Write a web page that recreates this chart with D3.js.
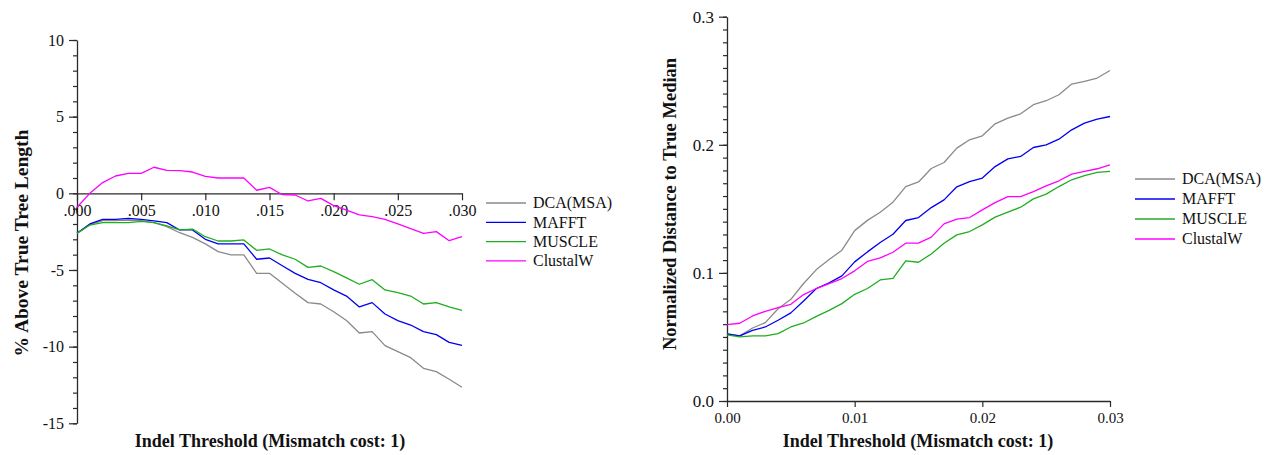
<!DOCTYPE html>
<html>
<head>
<meta charset="utf-8">
<script src="https://cdn.jsdelivr.net/npm/d3@7"></script>
<style>
  html, body { margin: 0; padding: 0; background: #fff; }
  svg { display: block; font-family: "Liberation Serif", "Times New Roman", serif; }
</style>
</head>
<body>
<svg id="chart" width="1272" height="455"></svg>
<script>
// Indel threshold values (x), shared by both panels
const thresholds = [0.000, 0.001, 0.002, 0.003, 0.004, 0.005, 0.006, 0.007, 0.008, 0.009,
  0.010, 0.011, 0.012, 0.013, 0.014, 0.015, 0.016, 0.017, 0.018, 0.019,
  0.020, 0.021, 0.022, 0.023, 0.024, 0.025, 0.026, 0.027, 0.028, 0.029, 0.030];

const methods = ["DCA(MSA)", "MAFFT", "MUSCLE", "ClustalW"];
const colors = ["#8a8a8a", "#0000f0", "#1fae1f", "#ff00ff"];

// Left panel: % above true tree length
const lenDCA = [-2.61, -2.04, -1.78, -1.78, -1.74, -1.78, -1.91, -2.17, -2.57, -2.87, -3.30, -3.80, -4.02, -4.02, -5.22, -5.22, -5.87, -6.52, -7.13, -7.22, -7.72, -8.30, -9.11, -9.02, -9.93, -10.33, -10.72, -11.41, -11.63, -12.13, -12.65];
const lenMAFFT = [-2.61, -2.00, -1.70, -1.70, -1.63, -1.70, -1.80, -1.91, -2.39, -2.39, -3.00, -3.30, -3.30, -3.30, -4.30, -4.22, -4.72, -5.22, -5.61, -5.83, -6.30, -6.70, -7.41, -7.13, -7.87, -8.30, -8.59, -9.02, -9.22, -9.72, -9.91];
const lenMUSCLE = [-2.61, -2.07, -1.91, -1.91, -1.91, -1.83, -1.91, -2.13, -2.39, -2.33, -2.83, -3.11, -3.11, -3.04, -3.72, -3.63, -4.02, -4.30, -4.83, -4.74, -5.11, -5.52, -5.93, -5.63, -6.30, -6.48, -6.70, -7.22, -7.13, -7.41, -7.63];
const lenClustalW = [-0.91, 0.00, 0.70, 1.13, 1.30, 1.30, 1.70, 1.50, 1.48, 1.39, 1.11, 1.00, 1.00, 1.00, 0.20, 0.39, -0.09, -0.11, -0.50, -0.33, -0.80, -1.09, -1.41, -1.52, -1.70, -2.00, -2.30, -2.61, -2.50, -3.09, -2.83];

// Right panel: normalized distance to true median
const distDCA = [0.0523, 0.0508, 0.0570, 0.0612, 0.0720, 0.0794, 0.0917, 0.1026, 0.1104, 0.1177, 0.1330, 0.1410, 0.1474, 0.1552, 0.1674, 0.1710, 0.1815, 0.1862, 0.1974, 0.2039, 0.2070, 0.2164, 0.2208, 0.2242, 0.2313, 0.2344, 0.2391, 0.2474, 0.2495, 0.2521, 0.2580];
const distMAFFT = [0.0523, 0.0508, 0.0552, 0.0578, 0.0630, 0.0688, 0.0781, 0.0878, 0.0922, 0.0977, 0.1086, 0.1164, 0.1237, 0.1302, 0.1409, 0.1432, 0.1510, 0.1570, 0.1672, 0.1713, 0.1740, 0.1830, 0.1890, 0.1909, 0.1979, 0.2000, 0.2044, 0.2117, 0.2169, 0.2200, 0.2221];
const distMUSCLE = [0.0516, 0.0500, 0.0508, 0.0508, 0.0526, 0.0578, 0.0609, 0.0661, 0.0708, 0.0760, 0.0833, 0.0878, 0.0945, 0.0958, 0.1094, 0.1083, 0.1148, 0.1232, 0.1297, 0.1323, 0.1375, 0.1435, 0.1474, 0.1513, 0.1578, 0.1615, 0.1674, 0.1727, 0.1760, 0.1784, 0.1792];
const distClustalW = [0.0596, 0.0607, 0.0664, 0.0700, 0.0729, 0.0755, 0.0831, 0.0878, 0.0917, 0.0956, 0.1016, 0.1089, 0.1117, 0.1161, 0.1232, 0.1232, 0.1279, 0.1383, 0.1420, 0.1432, 0.1492, 0.1549, 0.1596, 0.1596, 0.1635, 0.1680, 0.1719, 0.1771, 0.1792, 0.1813, 0.1844];

// Tick values
const leftXTicks = [0, 0.005, 0.010, 0.015, 0.020, 0.025, 0.030];
const leftYTicks = [-15, -10, -5, 0, 5, 10];
const rightXTicks = [0, 0.01, 0.02, 0.03];
const rightYTicks = [0, 0.1, 0.2, 0.3];

const svg = d3.select("#chart");
const axisColor = "#2a2a2a";
const tickFont = 16;

function styleAxis(g) {
  g.selectAll("path.domain").attr("stroke", axisColor).attr("stroke-width", 1.3);
  g.selectAll(".tick line").attr("stroke", axisColor).attr("stroke-width", 1.2);
  g.selectAll(".tick text").attr("fill", "#111").attr("font-size", tickFont)
    .attr("font-family", "'Liberation Serif', 'Times New Roman', serif");
}

function drawLines(g, x, y, seriesList) {
  const line = d3.line().x((d, i) => x(thresholds[i])).y(d => y(d));
  seriesList.forEach((vals, k) => {
    g.append("path")
      .datum(vals)
      .attr("fill", "none")
      .attr("stroke", colors[k])
      .attr("stroke-width", 1.3)
      .attr("stroke-linejoin", "round")
      .attr("d", line);
  });
}

function drawLegend(g, x0, y0, step) {
  methods.forEach((m, k) => {
    const yy = y0 + k * step;
    g.append("line").attr("x1", x0).attr("x2", x0 + 40).attr("y1", yy).attr("y2", yy)
      .attr("stroke", colors[k]).attr("stroke-width", 1.3);
    g.append("text").attr("x", x0 + 47).attr("y", yy).attr("dy", "0.33em")
      .attr("font-size", 16).attr("fill", "#111").text(m);
  });
}

// ---------- Left panel ----------
const xL = d3.scaleLinear().domain([0, 0.03]).range([77, 462]);
const yL = d3.scaleLinear().domain([-15, 10]).range([423.3, 40]);

const gL = svg.append("g");

// minor y ticks every 1 unit
const yLMinor = gL.append("g").attr("transform", `translate(${xL(0)},0)`)
  .call(d3.axisLeft(yL).tickValues(d3.range(-15, 11, 1)).tickSize(4).tickFormat(""));
yLMinor.select("path.domain").remove();
styleAxis(yLMinor);

const yLAxis = gL.append("g").attr("transform", `translate(${xL(0)},0)`)
  .call(d3.axisLeft(yL).tickValues(leftYTicks).tickSize(8).tickSizeOuter(0).tickPadding(5)
    .tickFormat(d => d3.format("d")(d).replace("−", "-")));
styleAxis(yLAxis);

const xLAxis = gL.append("g").attr("transform", `translate(0,${yL(0)})`)
  .call(d3.axisBottom(xL).tickValues(leftXTicks).tickSize(7).tickSizeOuter(0).tickPadding(4)
    .tickFormat(d => d3.format(".3f")(d).replace(/^0/, "")));
styleAxis(xLAxis);

drawLines(gL, xL, yL, [lenDCA, lenMAFFT, lenMUSCLE, lenClustalW]);

gL.append("text")
  .attr("x", 270).attr("y", 447)
  .attr("text-anchor", "middle").attr("font-weight", "bold").attr("font-size", 18)
  .attr("fill", "#111")
  .text("Indel Threshold (Mismatch cost: 1)");

gL.append("text")
  .attr("transform", "translate(21,243) rotate(-90)")
  .attr("text-anchor", "middle").attr("dy", "0.35em")
  .attr("font-weight", "bold").attr("font-size", 19.5).attr("fill", "#111")
  .text("% Above True Tree Length");

drawLegend(gL, 486, 203, 19.3);

// ---------- Right panel ----------
const xR = d3.scaleLinear().domain([0, 0.03]).range([727, 1110]);
const yR = d3.scaleLinear().domain([0, 0.3]).range([401, 16.7]);

const gR = svg.append("g");

const yRMinor = gR.append("g").attr("transform", `translate(${xR(0)},0)`)
  .call(d3.axisLeft(yR).tickValues(d3.range(0, 31, 1).map(v => v / 100)).tickSize(4).tickFormat(""));
yRMinor.select("path.domain").remove();
styleAxis(yRMinor);

const yRAxis = gR.append("g").attr("transform", `translate(${xR(0)},0)`)
  .call(d3.axisLeft(yR).tickValues(rightYTicks).tickSize(8).tickSizeOuter(0).tickPadding(5)
    .tickFormat(d3.format(".1f")));
styleAxis(yRAxis);
yRAxis.selectAll(".tick text").attr("font-size", 17);

const xRAxis = gR.append("g").attr("transform", `translate(0,${yR(0)})`)
  .call(d3.axisBottom(xR).tickValues(rightXTicks).tickSize(6).tickSizeOuter(0).tickPadding(5)
    .tickFormat(d3.format(".2f")));
styleAxis(xRAxis);
xRAxis.selectAll(".tick text").attr("font-size", 15);

drawLines(gR, xR, yR, [distDCA, distMAFFT, distMUSCLE, distClustalW]);

gR.append("text")
  .attr("x", 918).attr("y", 447)
  .attr("text-anchor", "middle").attr("font-weight", "bold").attr("font-size", 18)
  .attr("fill", "#111")
  .text("Indel Threshold (Mismatch cost: 1)");

gR.append("text")
  .attr("transform", "translate(670,204) rotate(-90)")
  .attr("text-anchor", "middle").attr("dy", "0.35em")
  .attr("font-weight", "bold").attr("font-size", 18.5).attr("fill", "#111")
  .text("Normalized Distance to True Median");

drawLegend(gR, 1135, 179, 20);
</script>
</body>
</html>
